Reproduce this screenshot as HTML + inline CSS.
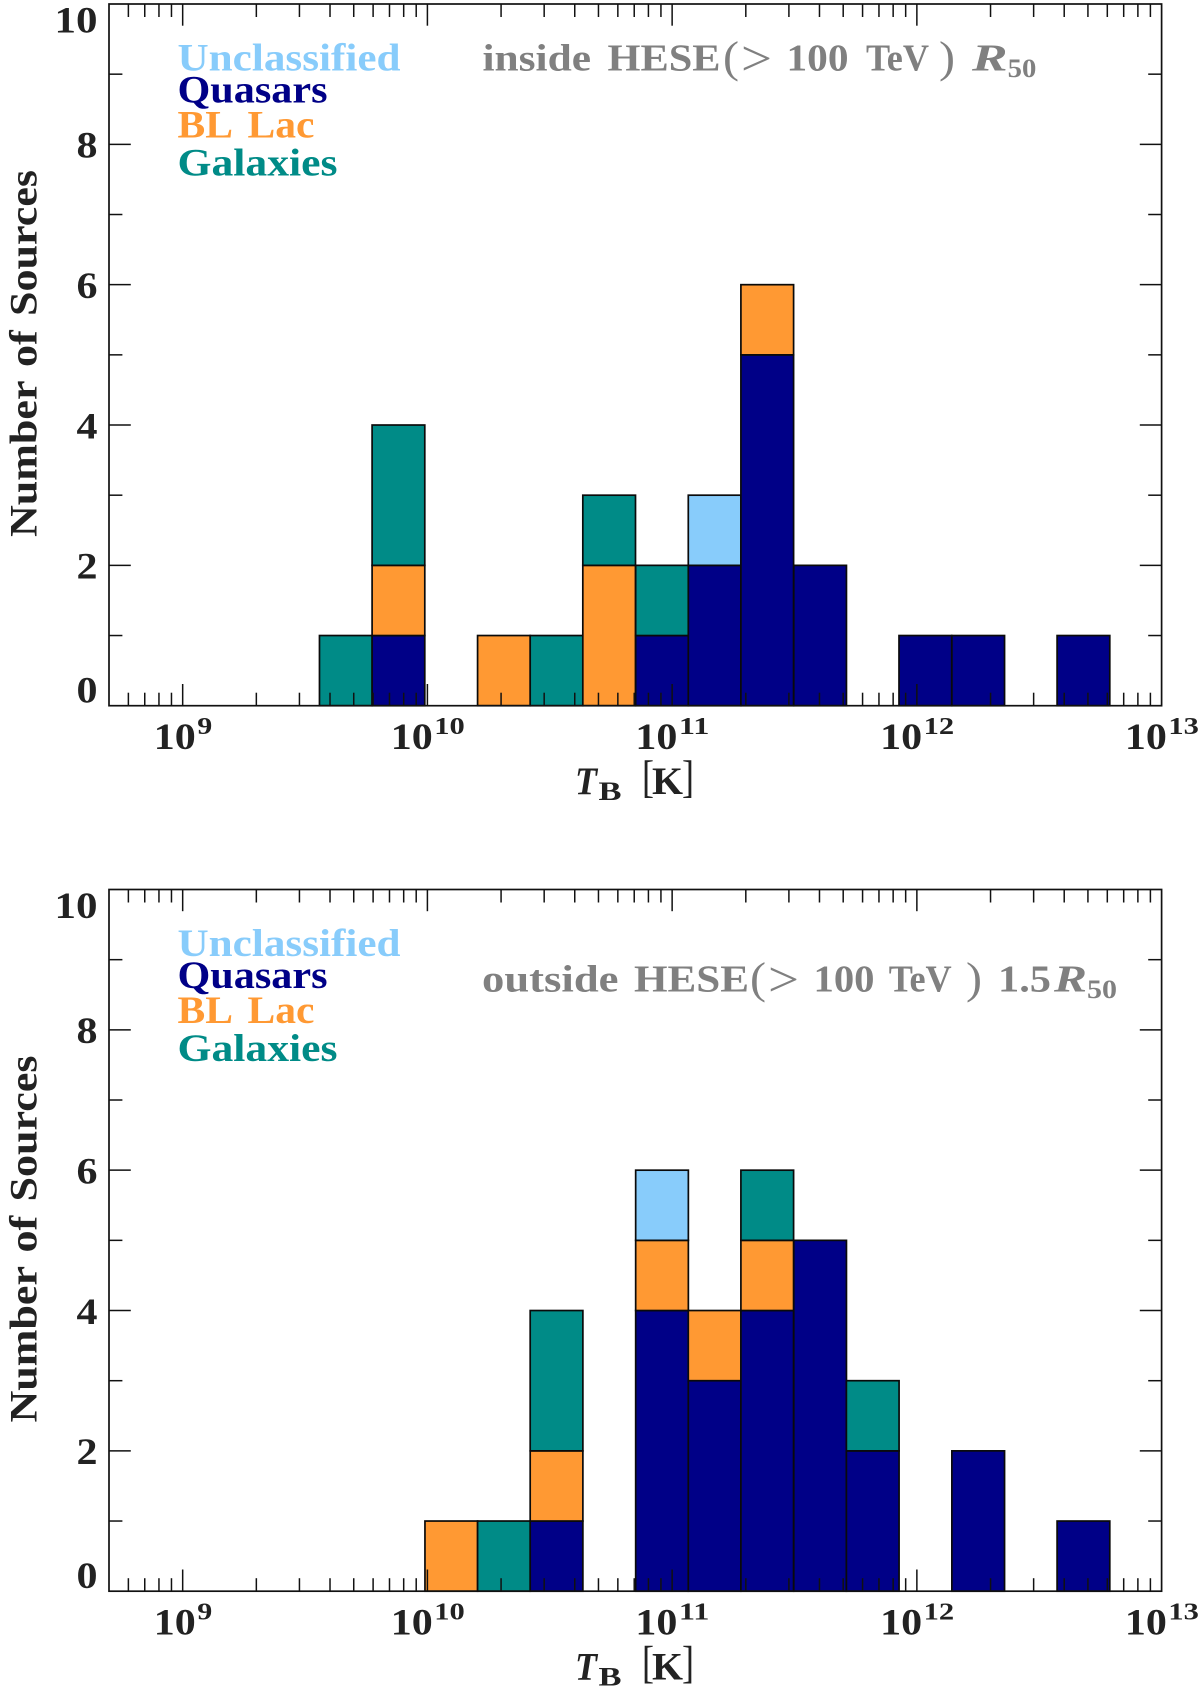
<!DOCTYPE html>
<html lang="en">
<head>
<meta charset="utf-8">
<title>Number of Sources vs brightness temperature</title>
<style>
html,body{margin:0;padding:0;background:#fff;width:1200px;height:1690px;overflow:hidden}
svg{display:block}
text{font-family:"Liberation Serif",serif}
</style>
</head>
<body>
<svg id="figure" xmlns="http://www.w3.org/2000/svg" width="1200" height="1690" viewBox="0 0 1200 1690"></svg>
<script>
// ---- chart data ----
const binLowerLog = [9.559,9.774,9.990,10.205,10.420,10.635,10.851,11.066,11.281,11.497,11.712,11.927,12.143,12.358,12.573];
const binWidthDex = 0.2153;
const insideQuasars      = [0,1,0,0,0,0,1,2,5,2,0,1,1,0,1];
const insideBLLac        = [0,1,0,1,0,2,0,0,1,0,0,0,0,0,0];
const insideGalaxies     = [1,2,0,0,1,1,1,0,0,0,0,0,0,0,0];
const insideUnclassified = [0,0,0,0,0,0,0,1,0,0,0,0,0,0,0];
const outsideQuasars      = [0,0,0,0,1,0,4,3,4,5,2,0,2,0,1];
const outsideBLLac        = [0,0,1,0,1,0,1,1,1,0,0,0,0,0,0];
const outsideGalaxies     = [0,0,0,1,2,0,0,0,1,0,1,0,0,0,0];
const outsideUnclassified = [0,0,0,0,0,0,1,0,0,0,0,0,0,0,0];
const yTickLabels = ["0","2","4","6","8","10"];
const yTickValues = [0,2,4,6,8,10];
const yMinorValues = [1,3,5,7,9];
const xDecades = [9,10,11,12,13];
const xMinorMultipliers = [2,3,4,5,6,7,8,9];
const legendLabels = ["Unclassified","Quasars","BL Lac","Galaxies"];
const yTitleText = "Number of Sources";

// ---- layout ----
const NS = "http://www.w3.org/2000/svg";
const svg = document.getElementById("figure");
const plotLeft = 109, plotRight = 1161.6, plotTop = 4, plotBottom = 705.7;
const xMinLog = Math.log10(5e8), xMaxLog = 13;
const yMax = 10;
const colors = {q:"#000087", b:"#FF9933", g:"#008B87", u:"#88CCFB", ink:"#222222", grey:"#808080"};
function xScale(logv){return plotLeft + (logv - xMinLog) / (xMaxLog - xMinLog) * (plotRight - plotLeft);}
function yScale(v){return plotBottom - v / yMax * (plotBottom - plotTop);}

function addText(parent, str, x, y, width, size, fill, name, opts){
  const t = document.createElementNS(NS, "text");
  
  
  t.setAttribute("x", x);
  t.setAttribute("y", y);
  t.setAttribute("font-size", size);
  t.setAttribute("fill", fill);
  t.setAttribute("font-weight", (opts && opts.light) ? "normal" : "bold");
  if (opts && opts.italic) t.setAttribute("font-style", "italic");
  if (opts && opts.wordSpacing) t.setAttribute("word-spacing", opts.wordSpacing);
  t.setAttribute("textLength", width);
  t.setAttribute("lengthAdjust", "spacingAndGlyphs");
  if (opts && opts.rotate) t.setAttribute("transform", "rotate(-90 " + x + " " + y + ")");
  t.textContent = str;
  parent.appendChild(t);
  return t;
}
function addLine(parent, x1, y1, x2, y2, name, w){
  const l = document.createElementNS(NS, "line");
  
  
  l.setAttribute("x1", x1);
  l.setAttribute("y1", y1);
  l.setAttribute("x2", x2);
  l.setAttribute("y2", y2);
  l.setAttribute("stroke", "#111");
  l.setAttribute("stroke-width", w || 1.5);
  parent.appendChild(l);
}

function drawPanel(panelName, offsetY, stacks, titleRuns){
  const g = document.createElementNS(NS, "g");
  
  
  g.setAttribute("transform", "translate(0 " + offsetY + ")");
  svg.appendChild(g);

  // bars
  binLowerLog.forEach(function(lo, i){
    let base = 0;
    stacks.forEach(function(s){
      const v = s.values[i];
      if (!v) return;
      const r = document.createElementNS(NS, "rect");
      
      
      const x0 = xScale(lo), x1 = xScale(lo + binWidthDex);
      r.setAttribute("x", x0);
      r.setAttribute("width", x1 - x0);
      r.setAttribute("y", yScale(base + v));
      r.setAttribute("height", yScale(base) - yScale(base + v));
      r.setAttribute("fill", s.color);
      r.setAttribute("stroke", "#0a0a0a");
      r.setAttribute("stroke-width", 1.7);
      g.appendChild(r);
      base += v;
    });
  });

  // frame
  const frame = document.createElementNS(NS, "rect");
  
  
  frame.setAttribute("x", plotLeft);
  frame.setAttribute("y", plotTop);
  frame.setAttribute("width", plotRight - plotLeft);
  frame.setAttribute("height", plotBottom - plotTop);
  frame.setAttribute("fill", "none");
  frame.setAttribute("stroke", "#111");
  frame.setAttribute("stroke-width", 1.7);
  g.appendChild(frame);

  // x ticks
  const majorLen = 21.7, minorLen = 13;
  const firstDecade = [8].concat(xDecades);
  firstDecade.forEach(function(d){
    xMinorMultipliers.forEach(function(m){
      const lg = d + Math.log10(m);
      if (lg < xMinLog + 1e-6 || lg >= xMaxLog) return;
      const x = xScale(lg);
      addLine(g, x, plotBottom, x, plotBottom - minorLen, "x-minor-tick-bottom");
      addLine(g, x, plotTop, x, plotTop + minorLen, "x-minor-tick-top");
    });
  });
  xDecades.forEach(function(d){
    const x = xScale(d);
    if (d < xMaxLog) {
      addLine(g, x, plotBottom, x, plotBottom - majorLen, "x-major-tick-bottom");
      addLine(g, x, plotTop, x, plotTop + majorLen, "x-major-tick-top");
    }
    const sup = String(d);
    const half = sup.length > 1 ? 36.7 : 28.9;
    addText(g, "10", x - half, 749, 42, 36.5, colors.ink, "x-tick-label-10e" + d);
    addText(g, sup, x - half + 43.5, 734, sup.length > 1 ? 30.5 : 15, 24, colors.ink, "x-tick-exponent-" + d);
  });

  // y ticks
  yMinorValues.forEach(function(v){
    const y = yScale(v);
    addLine(g, plotLeft, y, plotLeft + 13.4, y, "y-minor-tick-left");
    addLine(g, plotRight, y, plotRight - 13.4, y, "y-minor-tick-right");
  });
  yTickValues.forEach(function(v, i){
    const y = yScale(v);
    if (v > 0 && v < yMax) {
      addLine(g, plotLeft, y, plotLeft + 21.8, y, "y-major-tick-left");
      addLine(g, plotRight, y, plotRight - 21.8, y, "y-major-tick-right");
    }
    const label = yTickLabels[i];
    const w = label.length > 1 ? 43 : 21;
    const base = Math.min(Math.max(y + 13.3, plotTop + 28.3), plotBottom - 3.4);
    addText(g, label, 97.5 - w, base, w, 36.5, colors.ink, "y-tick-label-" + label);
  });

  // axis titles
  addText(g, "T", 575, 794, 22, 39, colors.ink, "x-axis-title-symbol", {italic:true});
  addText(g, "B", 598.5, 800, 23, 26, colors.ink, "x-axis-title-subscript");
  addText(g, "[", 642, 792, 12, 46, colors.ink, "x-axis-title-bracket-open", {light:true});
  addText(g, "K", 652, 794, 31, 39, colors.ink, "x-axis-title-unit");
  addText(g, "]", 682, 792, 12, 46, colors.ink, "x-axis-title-bracket-close", {light:true});
  addText(g, yTitleText, 36.4, 537, 367, 39.5, colors.ink, "y-axis-title", {rotate:true, wordSpacing:3});

  // legend
  const lgColors = [colors.u, colors.q, colors.b, colors.g];
  const lgWidths = [223, 150, 137, 160];
  const lgBase = [70.7, 102.7, 137.3, 175.7];
  legendLabels.forEach(function(label, i){
    addText(g, label, 177.5, lgBase[i], lgWidths[i], 39, lgColors[i], "legend-" + label.toLowerCase().replace(" ", "-"), {wordSpacing:6});
  });

  // annotation
  titleRuns.forEach(function(r){
    addText(g, r[0], r[1], r[2], r[3], r[4], colors.grey, "annotation-run", {italic:r[5], light:r[6]});
  });
}

drawPanel("panel-inside", 0,
  [{key:"quasars", values:insideQuasars, color:colors.q},
   {key:"bl-lac", values:insideBLLac, color:colors.b},
   {key:"galaxies", values:insideGalaxies, color:colors.g},
   {key:"unclassified", values:insideUnclassified, color:colors.u}],
  [["inside",482.5,70.7,108.5,38],["HESE",607.5,70.7,113,38],["(",723,72,16,44,false,true],["\u003E",741,75,31,50,false,true],
   ["100",786.5,70.7,62,38],["TeV",866,70.7,63,38],[")",939,72,16,44,false,true],
   ["R",972,70.7,35.6,38,true],["50",1007.6,77,28.7,26]],
);

drawPanel("panel-outside", 885.5,
  [{key:"quasars", values:outsideQuasars, color:colors.q},
   {key:"bl-lac", values:outsideBLLac, color:colors.b},
   {key:"galaxies", values:outsideGalaxies, color:colors.g},
   {key:"unclassified", values:outsideUnclassified, color:colors.u}],
  [["outside",482,106.2,136.5,38],["HESE",634,106.2,115,38],["(",750,107.5,16,44,false,true],["\u003E",768,110.5,31,50,false,true],
   ["100",813.5,106.2,61,38],["TeV",888.7,106.2,63,38],[")",966,107.5,16,44,false,true],
   ["1.5",998,106.2,53,38],["R",1054,106.2,33,38,true],["50",1087,112.5,30,26]],
);
</script>
</body>
</html>
